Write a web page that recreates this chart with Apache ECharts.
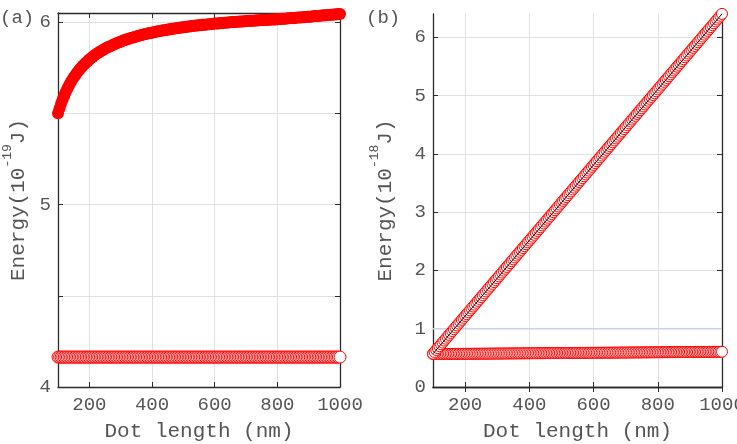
<!DOCTYPE html>
<html style="height: 100%">

<head>
    <meta charset="utf-8">
</head>

<body style="height: 100%; margin: 0">
    <div id="container" style="width: 737px; height: 444px"></div>
    <script type="text/javascript" src="https://cdn.jsdelivr.net/npm/echarts@6/dist/echarts.min.js"></script>

    <script type="text/javascript">
        var dotLength = [100, 105, 110, 115, 120, 125, 130, 135, 140, 145,
            150, 155, 160, 165, 170, 175, 180, 185, 190, 195,
            200, 205, 210, 215, 220, 225, 230, 235, 240, 245,
            250, 255, 260, 265, 270, 275, 280, 285, 290, 295,
            300, 305, 310, 315, 320, 325, 330, 335, 340, 345,
            350, 355, 360, 365, 370, 375, 380, 385, 390, 395,
            400, 405, 410, 415, 420, 425, 430, 435, 440, 445,
            450, 455, 460, 465, 470, 475, 480, 485, 490, 495,
            500, 505, 510, 515, 520, 525, 530, 535, 540, 545,
            550, 555, 560, 565, 570, 575, 580, 585, 590, 595,
            600, 605, 610, 615, 620, 625, 630, 635, 640, 645,
            650, 655, 660, 665, 670, 675, 680, 685, 690, 695,
            700, 705, 710, 715, 720, 725, 730, 735, 740, 745,
            750, 755, 760, 765, 770, 775, 780, 785, 790, 795,
            800, 805, 810, 815, 820, 825, 830, 835, 840, 845,
            850, 855, 860, 865, 870, 875, 880, 885, 890, 895,
            900, 905, 910, 915, 920, 925, 930, 935, 940, 945,
            950, 955, 960, 965, 970, 975, 980, 985, 990, 995, 1000];

        // panel (a), 10^-19 J
        var energyA1 = [5.500, 5.528, 5.554, 5.577, 5.598, 5.618, 5.636, 5.653, 5.669, 5.683,
            5.697, 5.709, 5.721, 5.732, 5.743, 5.753, 5.762, 5.771, 5.779, 5.787,
            5.795, 5.802, 5.809, 5.816, 5.822, 5.828, 5.833, 5.839, 5.844, 5.849,
            5.854, 5.859, 5.863, 5.867, 5.871, 5.875, 5.879, 5.883, 5.887, 5.890,
            5.893, 5.897, 5.900, 5.903, 5.906, 5.908, 5.911, 5.914, 5.916, 5.919,
            5.921, 5.924, 5.926, 5.928, 5.931, 5.933, 5.935, 5.937, 5.939, 5.941,
            5.942, 5.944, 5.946, 5.948, 5.950, 5.951, 5.953, 5.955, 5.956, 5.957,
            5.959, 5.960, 5.962, 5.963, 5.964, 5.966, 5.967, 5.968, 5.970, 5.971,
            5.972, 5.973, 5.974, 5.975, 5.977, 5.978, 5.979, 5.980, 5.981, 5.982,
            5.983, 5.984, 5.985, 5.985, 5.986, 5.987, 5.988, 5.989, 5.990, 5.991,
            5.992, 5.992, 5.993, 5.994, 5.995, 5.995, 5.996, 5.997, 5.998, 5.998,
            5.999, 6.000, 6.001, 6.001, 6.002, 6.002, 6.003, 6.003, 6.004, 6.005,
            6.006, 6.006, 6.007, 6.007, 6.008, 6.008, 6.009, 6.009, 6.010, 6.010,
            6.011, 6.011, 6.012, 6.012, 6.013, 6.013, 6.014, 6.014, 6.015, 6.015,
            6.016, 6.017, 6.017, 6.018, 6.019, 6.019, 6.020, 6.021, 6.021, 6.022,
            6.023, 6.023, 6.024, 6.025, 6.025, 6.026, 6.027, 6.027, 6.028, 6.029,
            6.030, 6.030, 6.031, 6.032, 6.033, 6.033, 6.034, 6.035, 6.036, 6.036,
            6.037, 6.038, 6.039, 6.039, 6.040, 6.041, 6.042, 6.042, 6.043, 6.044, 6.045];
        var energyA2 = [4.164, 4.164, 4.164, 4.164, 4.164, 4.164, 4.164, 4.164, 4.164, 4.164,
            4.164, 4.164, 4.164, 4.164, 4.164, 4.164, 4.164, 4.164, 4.164, 4.164,
            4.164, 4.164, 4.164, 4.164, 4.164, 4.164, 4.164, 4.164, 4.164, 4.164,
            4.164, 4.164, 4.164, 4.164, 4.164, 4.164, 4.164, 4.164, 4.164, 4.164,
            4.164, 4.164, 4.164, 4.164, 4.164, 4.164, 4.164, 4.164, 4.164, 4.164,
            4.164, 4.164, 4.164, 4.164, 4.164, 4.164, 4.164, 4.164, 4.164, 4.164,
            4.164, 4.164, 4.164, 4.164, 4.164, 4.164, 4.164, 4.164, 4.164, 4.164,
            4.164, 4.164, 4.164, 4.164, 4.164, 4.164, 4.164, 4.164, 4.164, 4.164,
            4.164, 4.164, 4.164, 4.164, 4.164, 4.164, 4.164, 4.164, 4.164, 4.164,
            4.164, 4.164, 4.164, 4.164, 4.164, 4.164, 4.164, 4.164, 4.164, 4.164,
            4.164, 4.164, 4.164, 4.164, 4.164, 4.164, 4.164, 4.164, 4.164, 4.164,
            4.164, 4.164, 4.164, 4.164, 4.164, 4.164, 4.164, 4.164, 4.164, 4.164,
            4.164, 4.164, 4.164, 4.164, 4.164, 4.164, 4.164, 4.164, 4.164, 4.164,
            4.164, 4.164, 4.164, 4.164, 4.164, 4.164, 4.164, 4.164, 4.164, 4.164,
            4.164, 4.164, 4.164, 4.164, 4.164, 4.164, 4.164, 4.164, 4.164, 4.164,
            4.164, 4.164, 4.164, 4.164, 4.164, 4.164, 4.164, 4.164, 4.164, 4.164,
            4.164, 4.164, 4.164, 4.164, 4.164, 4.164, 4.164, 4.164, 4.164, 4.164,
            4.164, 4.164, 4.164, 4.164, 4.164, 4.164, 4.164, 4.164, 4.164, 4.164, 4.164];

        // panel (b), 10^-18 J
        var energyB1 = [0.570, 0.602, 0.635, 0.667, 0.700, 0.732, 0.764, 0.797, 0.829, 0.862,
            0.894, 0.927, 0.959, 0.991, 1.024, 1.056, 1.088, 1.121, 1.153, 1.186,
            1.218, 1.250, 1.283, 1.315, 1.348, 1.380, 1.412, 1.445, 1.477, 1.510,
            1.542, 1.574, 1.607, 1.639, 1.672, 1.704, 1.736, 1.769, 1.801, 1.834,
            1.866, 1.898, 1.931, 1.963, 1.996, 2.028, 2.060, 2.093, 2.125, 2.158,
            2.190, 2.222, 2.255, 2.287, 2.320, 2.352, 2.384, 2.417, 2.449, 2.482,
            2.514, 2.546, 2.579, 2.611, 2.644, 2.676, 2.708, 2.741, 2.773, 2.806,
            2.838, 2.870, 2.903, 2.935, 2.968, 3.000, 3.032, 3.065, 3.097, 3.130,
            3.162, 3.194, 3.227, 3.259, 3.292, 3.324, 3.356, 3.389, 3.421, 3.454,
            3.486, 3.518, 3.551, 3.583, 3.616, 3.648, 3.680, 3.713, 3.745, 3.778,
            3.810, 3.842, 3.875, 3.907, 3.940, 3.972, 4.004, 4.037, 4.069, 4.102,
            4.134, 4.166, 4.199, 4.231, 4.264, 4.296, 4.328, 4.361, 4.393, 4.426,
            4.458, 4.490, 4.523, 4.555, 4.588, 4.620, 4.652, 4.685, 4.717, 4.750,
            4.782, 4.814, 4.847, 4.879, 4.912, 4.944, 4.976, 5.009, 5.041, 5.074,
            5.106, 5.138, 5.171, 5.203, 5.236, 5.268, 5.300, 5.333, 5.365, 5.398,
            5.430, 5.462, 5.495, 5.527, 5.560, 5.592, 5.624, 5.657, 5.689, 5.722,
            5.754, 5.786, 5.819, 5.851, 5.884, 5.916, 5.948, 5.981, 6.013, 6.046,
            6.078, 6.110, 6.143, 6.175, 6.208, 6.240, 6.272, 6.305, 6.337, 6.370, 6.402];
        var energyB2 = [0.565, 0.565, 0.565, 0.566, 0.566, 0.566, 0.566, 0.567, 0.567, 0.567,
            0.567, 0.567, 0.568, 0.568, 0.568, 0.568, 0.569, 0.569, 0.569, 0.569,
            0.569, 0.570, 0.570, 0.570, 0.570, 0.571, 0.571, 0.571, 0.571, 0.571,
            0.572, 0.572, 0.572, 0.572, 0.572, 0.573, 0.573, 0.573, 0.573, 0.574,
            0.574, 0.574, 0.574, 0.574, 0.575, 0.575, 0.575, 0.575, 0.576, 0.576,
            0.576, 0.576, 0.576, 0.577, 0.577, 0.577, 0.577, 0.578, 0.578, 0.578,
            0.578, 0.578, 0.579, 0.579, 0.579, 0.579, 0.580, 0.580, 0.580, 0.580,
            0.580, 0.581, 0.581, 0.581, 0.581, 0.582, 0.582, 0.582, 0.582, 0.582,
            0.583, 0.583, 0.583, 0.583, 0.583, 0.584, 0.584, 0.584, 0.584, 0.585,
            0.585, 0.585, 0.585, 0.585, 0.586, 0.586, 0.586, 0.586, 0.587, 0.587,
            0.587, 0.587, 0.587, 0.588, 0.588, 0.588, 0.588, 0.589, 0.589, 0.589,
            0.589, 0.589, 0.590, 0.590, 0.590, 0.590, 0.591, 0.591, 0.591, 0.591,
            0.591, 0.592, 0.592, 0.592, 0.592, 0.593, 0.593, 0.593, 0.593, 0.593,
            0.594, 0.594, 0.594, 0.594, 0.594, 0.595, 0.595, 0.595, 0.595, 0.596,
            0.596, 0.596, 0.596, 0.596, 0.597, 0.597, 0.597, 0.597, 0.598, 0.598,
            0.598, 0.598, 0.598, 0.599, 0.599, 0.599, 0.599, 0.600, 0.600, 0.600,
            0.600, 0.600, 0.601, 0.601, 0.601, 0.601, 0.602, 0.602, 0.602, 0.602,
            0.602, 0.603, 0.603, 0.603, 0.603, 0.604, 0.604, 0.604, 0.604, 0.604, 0.605];
        var refLineB = [[100, 1], [1000, 1]];

        var xTicks = [200, 400, 600, 800, 1000];
        var yTicksA = [4, 4.5, 5, 5.5, 6];
        var yLabelsA = [4, 5, 6];
        var yTicksB = [0, 1, 2, 3, 4, 5, 6];

        var font = 'Liberation Mono';
        var txt = '#555555';
        var boxColor = '#2b2b2b';
        var gridColor = '#e0e0e0';

        function pairs(ys) {
            return dotLength.map(function (x, i) { return [x, ys[i]]; });
        }

        function plain(v) { return String(v); }

        function xAxisFor(gi, top) {
            return {
                type: 'value', gridIndex: gi, position: top ? 'top' : 'bottom',
                min: 100, max: 1000,
                axisLine: { lineStyle: { color: boxColor, width: 1.3 } },
                axisTick: { inside: true, length: 5, customValues: xTicks, lineStyle: { color: boxColor } },
                axisLabel: top ? { show: false } : {
                    customValues: xTicks, margin: 8, formatter: plain,
                    fontFamily: font, fontSize: 19, color: txt
                },
                splitLine: { show: !top, lineStyle: { color: gridColor } },
                name: top ? '' : 'Dot length (nm)',
                nameLocation: 'middle', nameGap: 34,
                nameTextStyle: { fontFamily: font, fontSize: 21, color: txt }
            };
        }

        function yAxisFor(gi, right, min, max, ticks, labels, name, gap) {
            return {
                type: 'value', gridIndex: gi, position: right ? 'right' : 'left',
                min: min, max: max,
                axisLine: { show: true, lineStyle: { color: boxColor, width: 1.3 } },
                axisTick: { show: true, inside: true, length: 5, customValues: ticks, lineStyle: { color: boxColor } },
                axisLabel: right ? { show: false } : {
                    customValues: labels, margin: 7, formatter: plain,
                    fontFamily: font, fontSize: 19, color: txt
                },
                splitLine: { show: !right, lineStyle: { color: gridColor } },
                name: right ? '' : name,
                nameLocation: 'middle', nameRotate: 90, nameGap: gap,
                nameTextStyle: {
                    color: txt,
                    rich: {
                        n: { fontFamily: font, fontSize: 21, color: txt, lineHeight: 28, verticalAlign: 'bottom' },
                        s: { fontFamily: font, fontSize: 13, color: txt, lineHeight: 14, verticalAlign: 'top' }
                    }
                }
            };
        }

        var dom = document.getElementById("container");
        var myChart = echarts.init(dom);

        var option = {
            backgroundColor: '#fff',
            animation: false,
            grid: [
                { left: 58, right: 397, top: 13, bottom: 57, outerBoundsMode: 'none' },
                { left: 433, right: 15, top: 14, bottom: 57, outerBoundsMode: 'none' }
            ],
            graphic: [
                { type: 'text', left: 0, top: 8, style: { text: '(a)', font: '19px "Liberation Mono"', fill: txt } },
                { type: 'text', left: 366, top: 8, style: { text: '(b)', font: '19px "Liberation Mono"', fill: txt } }
            ],
            xAxis: [xAxisFor(0, false), xAxisFor(0, true), xAxisFor(1, false), xAxisFor(1, true)],
            yAxis: [
                yAxisFor(0, false, 4, 6.05, yTicksA, yLabelsA, '{n|Energy(10}{s|-19}{n|J)}', 29),
                yAxisFor(0, true, 4, 6.05, yTicksA, yLabelsA, '', 0),
                yAxisFor(1, false, 0, 6.4, yTicksB, yTicksB, '{n|Energy(10}{s|-18}{n|J)}', 37),
                yAxisFor(1, true, 0, 6.4, yTicksB, yTicksB, '', 0)
            ],
            series: [{
                type: 'line', xAxisIndex: 0, yAxisIndex: 0, clip: false,
                data: pairs(energyA1),
                lineStyle: { width: 0 },
                symbol: 'circle', symbolSize: 12,
                itemStyle: { color: '#ff0000', borderWidth: 0 }
            }, {
                type: 'line', xAxisIndex: 0, yAxisIndex: 0, clip: false,
                data: pairs(energyA2),
                lineStyle: { width: 0 },
                symbol: 'circle', symbolSize: 12,
                itemStyle: { color: '#ffffff', borderColor: '#ff0000', borderWidth: 1 }
            }, {
                type: 'line', xAxisIndex: 2, yAxisIndex: 2, clip: false,
                data: refLineB,
                symbol: 'none',
                lineStyle: { color: '#c4d3ee', width: 1.5 }
            }, {
                type: 'line', xAxisIndex: 2, yAxisIndex: 2, clip: false,
                data: pairs(energyB2),
                lineStyle: { width: 0 },
                symbol: 'circle', symbolSize: 11,
                itemStyle: { color: '#ffffff', borderColor: '#ff0000', borderWidth: 1 }
            }, {
                type: 'line', xAxisIndex: 2, yAxisIndex: 2, clip: false,
                data: pairs(energyB1),
                lineStyle: { width: 0 },
                symbol: 'circle', symbolSize: 11,
                itemStyle: { color: '#ffffff', borderColor: '#ff0000', borderWidth: 1 }
            }, {
                type: 'line', xAxisIndex: 2, yAxisIndex: 2, clip: false, z: 5,
                data: pairs(energyB1),
                symbol: 'none',
                lineStyle: { color: '#000000', width: 1 }
            }]
        };

        myChart.setOption(option);
    </script>
</body>

</html>
